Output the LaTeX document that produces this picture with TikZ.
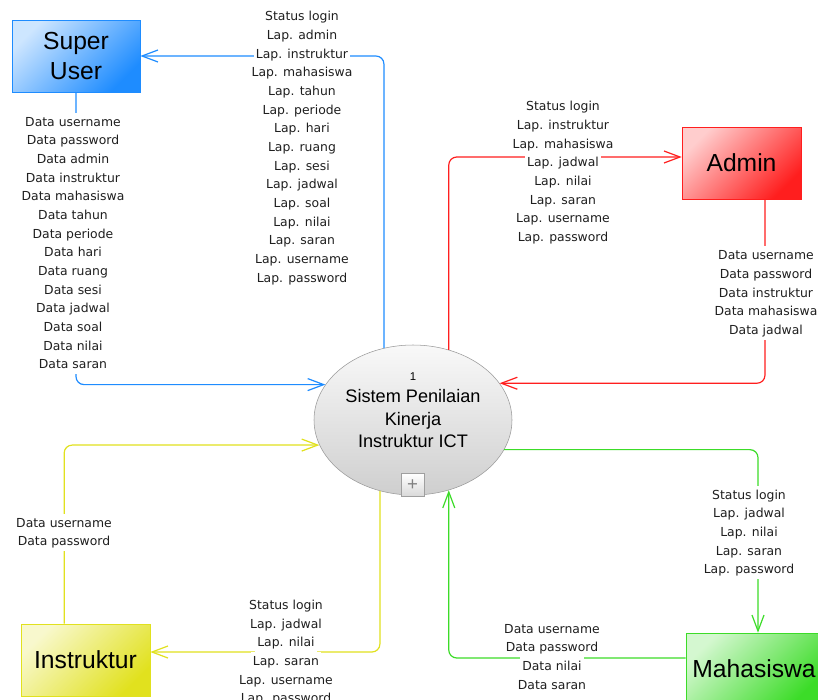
\documentclass[tikz,border=0pt]{standalone}
\usepackage{fontspec}
\setmainfont{Liberation Sans}
\newfontfamily\flowfont{DejaVu Sans}
\usetikzlibrary{arrows.meta, positioning, shapes.geometric}

\definecolor{suBlue}{RGB}{30,140,255}
\definecolor{adRed}{RGB}{255,30,30}
\definecolor{inYellow}{RGB}{225,225,30}
\definecolor{mhGreen}{RGB}{60,220,40}

\setlength{\fboxsep}{0pt}
\setlength{\lineskip}{0pt}
% one line of a data flow label, on white
\newcommand{\lbl}[1]{\colorbox{white}{\rule[-3.9pt]{0pt}{14pt}\hspace{1.5pt}#1\hspace{1.5pt}}}

\begin{document}
\begin{tikzpicture}[x=0.75pt, y=-0.75pt,
    entity/.style={draw=#1, top color=#1!22!white, bottom color=#1, shading angle=45,
        rectangle, minimum height=54pt, inner sep=0pt, align=center,
        font=\fontsize{18.5}{22}\selectfont},
    process/.style={ellipse, draw=gray!80, top color=gray!5, bottom color=gray!38,
        minimum width=148.5pt, minimum height=112.5pt, inner sep=0pt},
    flow/.style={line width=0.9pt, rounded corners=6pt,
        -{Straight Barb[length=12pt, width=9pt]}},
    data/.style={inner sep=0pt, align=center, text=black!88,
        font=\flowfont\fontsize{9.3}{13.9}\selectfont}]
    \useasboundingbox (0,0) rectangle (818,700);
    \clip (0,0) rectangle (818,700);
    \fill [white] (0,0) rectangle (818,700);

    \node (su) [entity=suBlue, minimum width=96pt] at (76,56) {Super\\User};
    \node (admin) [entity=adRed, minimum width=89.25pt] at (741.5,163) {Admin};
    \node (ins) [entity=inYellow, minimum width=96.75pt] at (85.5,660) {Instruktur};
    \node (mah) [entity=mhGreen, minimum width=102pt] at (754,669) {Mahasiswa};
    \node (proc) [process] at (413,420) {};
    \node (proctext) [align=center, font=\fontsize{13.6}{16.9}\selectfont] at (413,410)
        {{\fontsize{8.5}{10}\selectfont 1}\\Sistem Penilaian\\Kinerja\\Instruktur ICT};
    \node (expand) [draw=gray!75, top color=white, bottom color=gray!30, minimum size=17pt,
        inner sep=0pt, text=gray, font=\fontsize{14}{14}\selectfont] at (412.5,485) {+};

    \draw [flow, suBlue] (proc.112) |- (su.east);
    \draw [flow, suBlue] (su.south) |- (proc.158);
    \draw [flow, adRed] (proc.63) |- ([yshift=4.5pt]admin.west);
    \draw [flow, adRed] ([xshift=17.6pt]admin.south) |- (proc.23);
    \draw [flow, inYellow] ([xshift=-16pt]ins.north) |- (proc.195);
    \draw [flow, inYellow] (proc.245) |- ([yshift=6pt]ins.east);
    \draw [flow, mhGreen] (proc.342) -| ([xshift=3pt]mah.north);
    \draw [flow, mhGreen] ([yshift=8.25pt]mah.west) -| (proc.297);

    \node (lapsu) [data] at (302,147.5) {\lbl{Status login}\\\lbl{Lap. admin}\\
        \lbl{Lap. instruktur}\\\lbl{Lap. mahasiswa}\\\lbl{Lap. tahun}\\
        \lbl{Lap. periode}\\\lbl{Lap. hari}\\\lbl{Lap. ruang}\\\lbl{Lap. sesi}\\
        \lbl{Lap. jadwal}\\\lbl{Lap. soal}\\\lbl{Lap. nilai}\\\lbl{Lap. saran}\\
        \lbl{Lap. username}\\\lbl{Lap. password}};
    \node (datasu) [data] at (73,243.5) {\lbl{Data username}\\\lbl{Data password}\\
        \lbl{Data admin}\\\lbl{Data instruktur}\\\lbl{Data mahasiswa}\\
        \lbl{Data tahun}\\\lbl{Data periode}\\\lbl{Data hari}\\\lbl{Data ruang}\\
        \lbl{Data sesi}\\\lbl{Data jadwal}\\\lbl{Data soal}\\\lbl{Data nilai}\\
        \lbl{Data saran}};
    \node (lapad) [data] at (563,172) {\lbl{Status login}\\\lbl{Lap. instruktur}\\
        \lbl{Lap. mahasiswa}\\\lbl{Lap. jadwal}\\\lbl{Lap. nilai}\\\lbl{Lap. saran}\\
        \lbl{Lap. username}\\\lbl{Lap. password}};
    \node (dataad) [data] at (766,293) {\lbl{Data username}\\\lbl{Data password}\\
        \lbl{Data instruktur}\\\lbl{Data mahasiswa}\\\lbl{Data jadwal}};
    \node (datains) [data] at (64,532.5) {\lbl{Data username}\\\lbl{Data password}};
    \node (lapins) [data] at (286,652) {\lbl{Status login}\\\lbl{Lap. jadwal}\\
        \lbl{Lap. nilai}\\\lbl{Lap. saran}\\\lbl{Lap. username}\\\lbl{Lap. password}};
    \node (lapmah) [data] at (749,532.5) {\lbl{Status login}\\\lbl{Lap. jadwal}\\
        \lbl{Lap. nilai}\\\lbl{Lap. saran}\\\lbl{Lap. password}};
    \node (datamah) [data] at (552,657) {\lbl{Data username}\\\lbl{Data password}\\
        \lbl{Data nilai}\\\lbl{Data saran}};
\end{tikzpicture}
\end{document}
